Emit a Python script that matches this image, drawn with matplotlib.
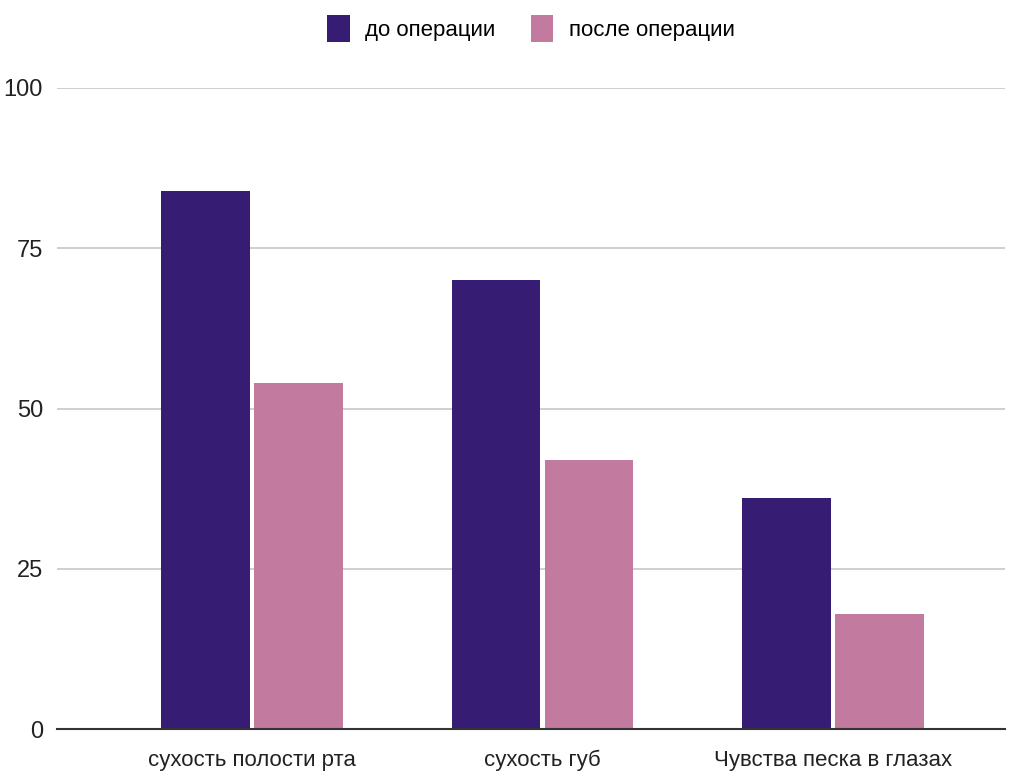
import numpy as np
import matplotlib
matplotlib.use("Agg")
from matplotlib import pyplot as plt

categories = ["сухость полости рта", "сухость губ", "Чувства песка в глазах"]
before = [84, 70, 36]
after = [54, 42, 18]
series_names = ["до операции", "после операции"]
yticks = [0, 25, 50, 75, 100]

plt.rcParams['font.family'] = ['Liberation Sans', 'DejaVu Sans']

fig = plt.figure(figsize=(10.2, 7.74), dpi=100)
ax = fig.add_axes([57/1020, 1 - 729/774, 948/1020, 641/774])

x = np.arange(len(categories))
w = 0.306
gap = 0.007
ax.bar(x - w/2 - gap, before, width=w, color='#371c74', label=series_names[0], zorder=3)
ax.bar(x + w/2 + gap, after, width=w, color='#c27b9f', label=series_names[1], zorder=3)

ax.set_xlim(-0.671, 2.592)
ax.set_ylim(0, 100)
ax.set_yticks(yticks)
ax.set_xticks(x)
ax.set_xticklabels(categories, fontsize=16, color='#222222')
ax.tick_params(axis='y', labelsize=17, colors='#222222', length=0, pad=10)
ax.tick_params(axis='x', length=0, pad=15)
ax.grid(axis='y', color='#cccccc', linewidth=1.3, zorder=0)
for s in ['top', 'right', 'left']:
    ax.spines[s].set_visible(False)
ax.spines['bottom'].set_color('#333333')
ax.spines['bottom'].set_linewidth(1.5)
ax.spines['bottom'].set_zorder(4)

ax.legend(loc='upper center', bbox_to_anchor=(0.5, 1.145), ncol=2, frameon=False,
          fontsize=16, handlelength=1.0, handleheight=1.5, columnspacing=1.6,
          handletextpad=0.7)

fig.savefig('out.png', dpi=100)
